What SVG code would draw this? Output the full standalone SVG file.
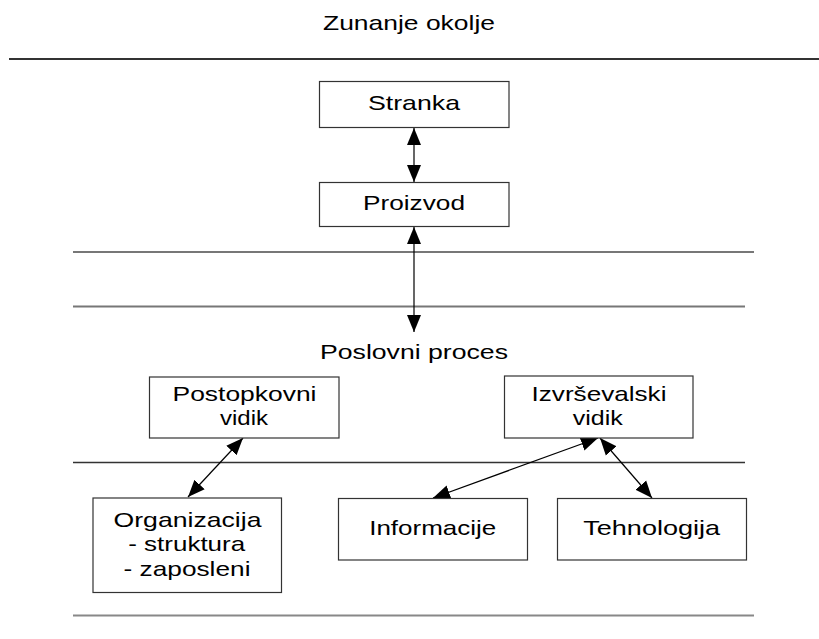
<svg xmlns="http://www.w3.org/2000/svg" width="819" height="639" viewBox="0 0 819 639">
<defs>
<style>
.box{fill:#fff;stroke:#333;stroke-width:1.2}
.t{font-family:"Liberation Sans",Arial,sans-serif;font-size:21px;fill:#000;text-anchor:middle}
.con{stroke:#000;stroke-width:1.2;fill:none;marker-start:url(#ah);marker-end:url(#ah)}
.sep{fill:none}
</style>
<marker id="ah" markerUnits="userSpaceOnUse" markerWidth="18" markerHeight="15" refX="17" refY="7" orient="auto-start-reverse" viewBox="0 0 18 14">
<path d="M0,0 L17,7 L0,14 z" fill="#000"/>
</marker>
</defs>
<rect width="819" height="639" fill="#fff"/>
<g id="separators" class="sep">
<line x1="9" y1="59" x2="819" y2="59" stroke="#333" stroke-width="2"/>
<line x1="73" y1="252" x2="754" y2="252" stroke="#777" stroke-width="2"/>
<line x1="73" y1="306.5" x2="745" y2="306.5" stroke="#777" stroke-width="2"/>
<line x1="73" y1="462.5" x2="745" y2="462.5" stroke="#333" stroke-width="1.5"/>
<line x1="73" y1="615.5" x2="754" y2="615.5" stroke="#888" stroke-width="2"/>
</g>
<g id="labels">
<text class="t" x="409" y="30" textLength="172" lengthAdjust="spacingAndGlyphs">Zunanje okolje</text>
<text class="t" x="414" y="359" textLength="188" lengthAdjust="spacingAndGlyphs">Poslovni proces</text>
</g>
<g id="connectors">
<line class="con" x1="414" y1="128" x2="414" y2="182"/>
<line class="con" x1="414" y1="227" x2="414" y2="332"/>
<line class="con" x1="243" y1="438" x2="188" y2="497"/>
<line class="con" x1="598" y1="438" x2="433" y2="498"/>
<line class="con" x1="600" y1="438" x2="652" y2="498"/>
</g>
<g id="stranka">
<rect class="box" x="319.5" y="81.5" width="189.5" height="46"/>
<text class="t" x="414" y="110" textLength="92" lengthAdjust="spacingAndGlyphs">Stranka</text>
</g>
<g id="proizvod">
<rect class="box" x="319.5" y="182.5" width="189.5" height="44"/>
<text class="t" x="414" y="210" textLength="102" lengthAdjust="spacingAndGlyphs">Proizvod</text>
</g>
<g id="postopkovni">
<rect class="box" x="149.5" y="377" width="189.5" height="61"/>
<text class="t" x="244.5" y="400.5" textLength="144" lengthAdjust="spacingAndGlyphs">Postopkovni</text>
<text class="t" x="244" y="424.5" textLength="48" lengthAdjust="spacingAndGlyphs">vidik</text>
</g>
<g id="izvrsevalski">
<rect class="box" x="504.5" y="376" width="188.5" height="62"/>
<text class="t" x="599" y="400.5" textLength="135" lengthAdjust="spacingAndGlyphs">Izvrševalski</text>
<text class="t" x="597.7" y="425" textLength="50" lengthAdjust="spacingAndGlyphs">vidik</text>
</g>
<g id="organizacija">
<rect class="box" x="93" y="498" width="188.5" height="94.5"/>
<text class="t" x="187.5" y="527" textLength="148" lengthAdjust="spacingAndGlyphs">Organizacija</text>
<text class="t" x="186.7" y="551" textLength="117" lengthAdjust="spacingAndGlyphs">- struktura</text>
<text class="t" x="187" y="576" textLength="127" lengthAdjust="spacingAndGlyphs">- zaposleni</text>
</g>
<g id="informacije">
<rect class="box" x="338.5" y="498.5" width="189" height="61.5"/>
<text class="t" x="432.7" y="535" textLength="127" lengthAdjust="spacingAndGlyphs">Informacije</text>
</g>
<g id="tehnologija">
<rect class="box" x="557.5" y="498.5" width="189" height="61.5"/>
<text class="t" x="651.7" y="535" textLength="137" lengthAdjust="spacingAndGlyphs">Tehnologija</text>
</g>
</svg>
